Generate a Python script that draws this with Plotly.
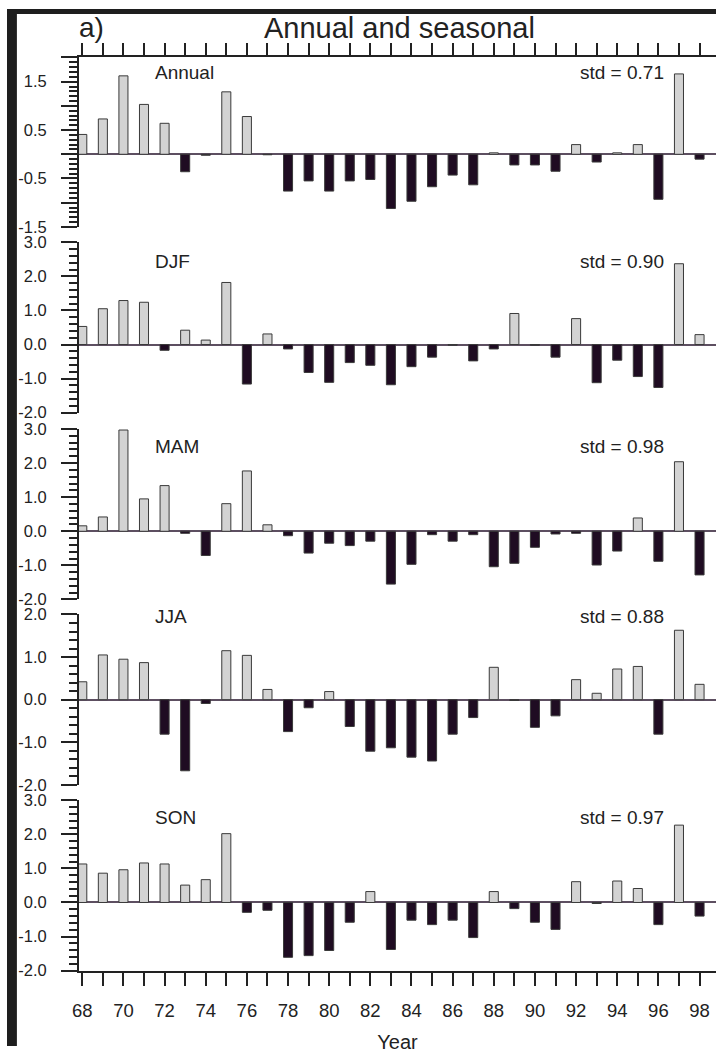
import plotly.graph_objects as go

# ---------------- data ----------------
years = list(range(68, 99))
xtick_labels = [str(y) if y % 2 == 0 else "" for y in years]

annual = [0.41, 0.73, 1.62, 1.03, 0.64, -0.36, -0.02, 1.29, 0.78, -0.01,
          -0.76, -0.55, -0.76, -0.55, -0.52, -1.12, -0.97, -0.67, -0.43, -0.63,
          0.03, -0.22, -0.22, -0.35, 0.20, -0.16, 0.03, 0.20, -0.93, 1.66, -0.10]
djf = [0.53, 1.05, 1.29, 1.24, -0.17, 0.42, 0.13, 1.82, -1.16, 0.31,
       -0.13, -0.82, -1.11, -0.53, -0.61, -1.18, -0.65, -0.37, -0.02, -0.48,
       -0.13, 0.91, -0.02, -0.37, 0.76, -1.12, -0.46, -0.94, -1.26, 2.37, 0.29]
mam = [0.16, 0.42, 2.97, 0.95, 1.34, -0.06, -0.71, 0.81, 1.77, 0.19,
       -0.13, -0.64, -0.35, -0.42, -0.29, -1.55, -0.97, -0.10, -0.29, -0.10,
       -1.04, -0.94, -0.47, -0.08, -0.06, -0.99, -0.58, 0.39, -0.88, 2.04, -1.28]
jja = [0.42, 1.05, 0.95, 0.87, -0.81, -1.67, -0.09, 1.15, 1.04, 0.24,
       -0.75, -0.19, 0.19, -0.63, -1.21, -1.13, -1.35, -1.44, -0.81, -0.42,
       0.76, -0.02, -0.65, -0.38, 0.47, 0.15, 0.72, 0.78, -0.81, 1.63, 0.36]
son = [1.13, 0.86, 0.96, 1.16, 1.13, 0.51, 0.67, 2.02, -0.29, -0.23,
       -1.61, -1.56, -1.41, -0.58, 0.32, -1.38, -0.52, -0.65, -0.52, -1.03,
       0.32, -0.18, -0.58, -0.79, 0.61, -0.03, 0.63, 0.41, -0.65, 2.27, -0.40]

panel_names = ["Annual", "DJF", "MAM", "JJA", "SON"]
panel_series = [annual, djf, mam, jja, son]
std_labels = ["std = 0.71", "std = 0.90", "std = 0.98", "std = 0.88", "std = 0.97"]
y_ranges = [[-1.5, 2.0], [-2.0, 3.0], [-2.0, 3.0], [-2.0, 2.0], [-2.0, 3.0]]

# ---------------- layout geometry (pixels) ----------------
W, H = 716, 1055
PLOT_LEFT = 72.7
tops = [49.3, 237.3, 427.3, 616.0, 805.0]
bottoms = [221.7, 410.7, 600.7, 789.3, 978.3]
label_y = [65, 257, 445, 618, 823]
LABEL_X = 147
STD_X = 666

POS_FILL = "#d3d3d3"
NEG_FILL = "#1f0c22"
EDGE = "#3a3a3a"
INK = "#222222"
FONT = "Liberation Sans, Arial, Helvetica, sans-serif"


def px(x):
    return x / W


def py(y):
    return 1 - y / H


fig = go.Figure()
layout = dict(
    width=W, height=H,
    margin=dict(l=0, r=0, t=0, b=0),
    paper_bgcolor="white", plot_bgcolor="white",
    showlegend=False,
    font=dict(family=FONT, color=INK),
)

annotations = []
for i, (name, vals) in enumerate(zip(panel_names, panel_series)):
    n = i + 1
    xa = "x" if n == 1 else f"x{n}"
    ya = "y" if n == 1 else f"y{n}"
    colors = [POS_FILL if v >= 0 else NEG_FILL for v in vals]
    fig.add_trace(go.Bar(
        x=years, y=vals, xaxis=xa, yaxis=ya, width=0.44,
        marker=dict(color=colors, line=dict(color=EDGE, width=1)),
    ))

    xkey = "xaxis" if n == 1 else f"xaxis{n}"
    ykey = "yaxis" if n == 1 else f"yaxis{n}"
    xaxis = dict(
        domain=[px(PLOT_LEFT), 1.0], range=[67.84, 98.8], anchor=ya,
        showgrid=False, zeroline=False, fixedrange=True,
    )
    if n == 1:
        xaxis.update(side="top", showline=True, linecolor=INK, linewidth=2,
                     ticks="outside", ticklen=12, tickwidth=2, tickcolor=INK,
                     tickmode="array", tickvals=years, showticklabels=False)
    elif n == 5:
        xaxis.update(side="bottom", showline=True, linecolor=INK, linewidth=2,
                     ticks="outside", ticklen=13, tickwidth=2, tickcolor=INK,
                     tickmode="array", tickvals=years, ticktext=xtick_labels,
                     tickfont=dict(size=18.5, family=FONT, color=INK),
                     ticklabelstandoff=9,
                     title=dict(text="Year", font=dict(size=20, family=FONT, color=INK),
                                standoff=15))
    else:
        xaxis.update(showline=False, ticks="", showticklabels=False)
    layout[xkey] = xaxis

    lo, hi = y_ranges[i]
    if n == 1:
        tv = [-1.5, -1.0, -0.5, 0.0, 0.5, 1.0, 1.5, 2.0]
        tt = ["-1.5", "", "-0.5", "", "0.5", "", "1.5", ""]
        minor_dt = 0.1
    else:
        tv = [v for v in [-2.0, -1.0, 0.0, 1.0, 2.0, 3.0] if lo <= v <= hi]
        tt = [f"{v:.1f}" for v in tv]
        minor_dt = 0.2
    layout[ykey] = dict(
        domain=[py(bottoms[i]), py(tops[i])], range=[lo, hi], anchor=xa,
        showgrid=False, fixedrange=True,
        showline=True, linecolor=INK, linewidth=2,
        zeroline=True, zerolinecolor="#5d4f61", zerolinewidth=1.5,
        ticks="outside", ticklen=16, tickwidth=2, tickcolor=INK,
        tickmode="array", tickvals=tv, ticktext=tt,
        tickfont=dict(size=16.5, family=FONT, color=INK),
        ticklabelstandoff=11,
        minor=dict(tickmode="linear", tick0=0, dtick=minor_dt, ticks="outside",
                   ticklen=8, tickwidth=1.5, tickcolor=INK, showgrid=False),
    )

    annotations.append(dict(
        text=name, xref="paper", yref="paper", x=px(LABEL_X), y=py(label_y[i]),
        xanchor="left", yanchor="middle", showarrow=False,
        font=dict(size=19, family=FONT, color=INK)))
    annotations.append(dict(
        text=std_labels[i], xref="paper", yref="paper", x=px(STD_X), y=py(label_y[i]),
        xanchor="right", yanchor="middle", showarrow=False,
        font=dict(size=19, family=FONT, color=INK)))

annotations.append(dict(
    text="a)", xref="paper", yref="paper", x=px(71), y=py(19),
    xanchor="left", yanchor="middle", showarrow=False,
    font=dict(size=28, family=FONT, color=INK)))
annotations.append(dict(
    text="Annual and seasonal", xref="paper", yref="paper", x=px(396), y=py(19),
    xanchor="center", yanchor="middle", showarrow=False,
    font=dict(size=29, family=FONT, color=INK)))

layout["annotations"] = annotations
layout["shapes"] = [
    dict(type="rect", xref="paper", yref="paper", x0=0, x1=px(10), y0=0, y1=1,
         fillcolor="#1e1e1e", line=dict(width=0), layer="above"),
    dict(type="rect", xref="paper", yref="paper", x0=0, x1=1, y0=py(5), y1=1,
         fillcolor="#1e1e1e", line=dict(width=0), layer="above"),
]

fig.update_layout(**layout)

post_js = ("document.documentElement.style.background='#ffffff';"
           "document.body.style.margin='0px';document.body.style.padding='0px';"
           "document.body.style.overflow='hidden';"
           "document.documentElement.style.overflow='hidden';")
fig.write_html("out.html", post_script=post_js, config={"displayModeBar": False})
